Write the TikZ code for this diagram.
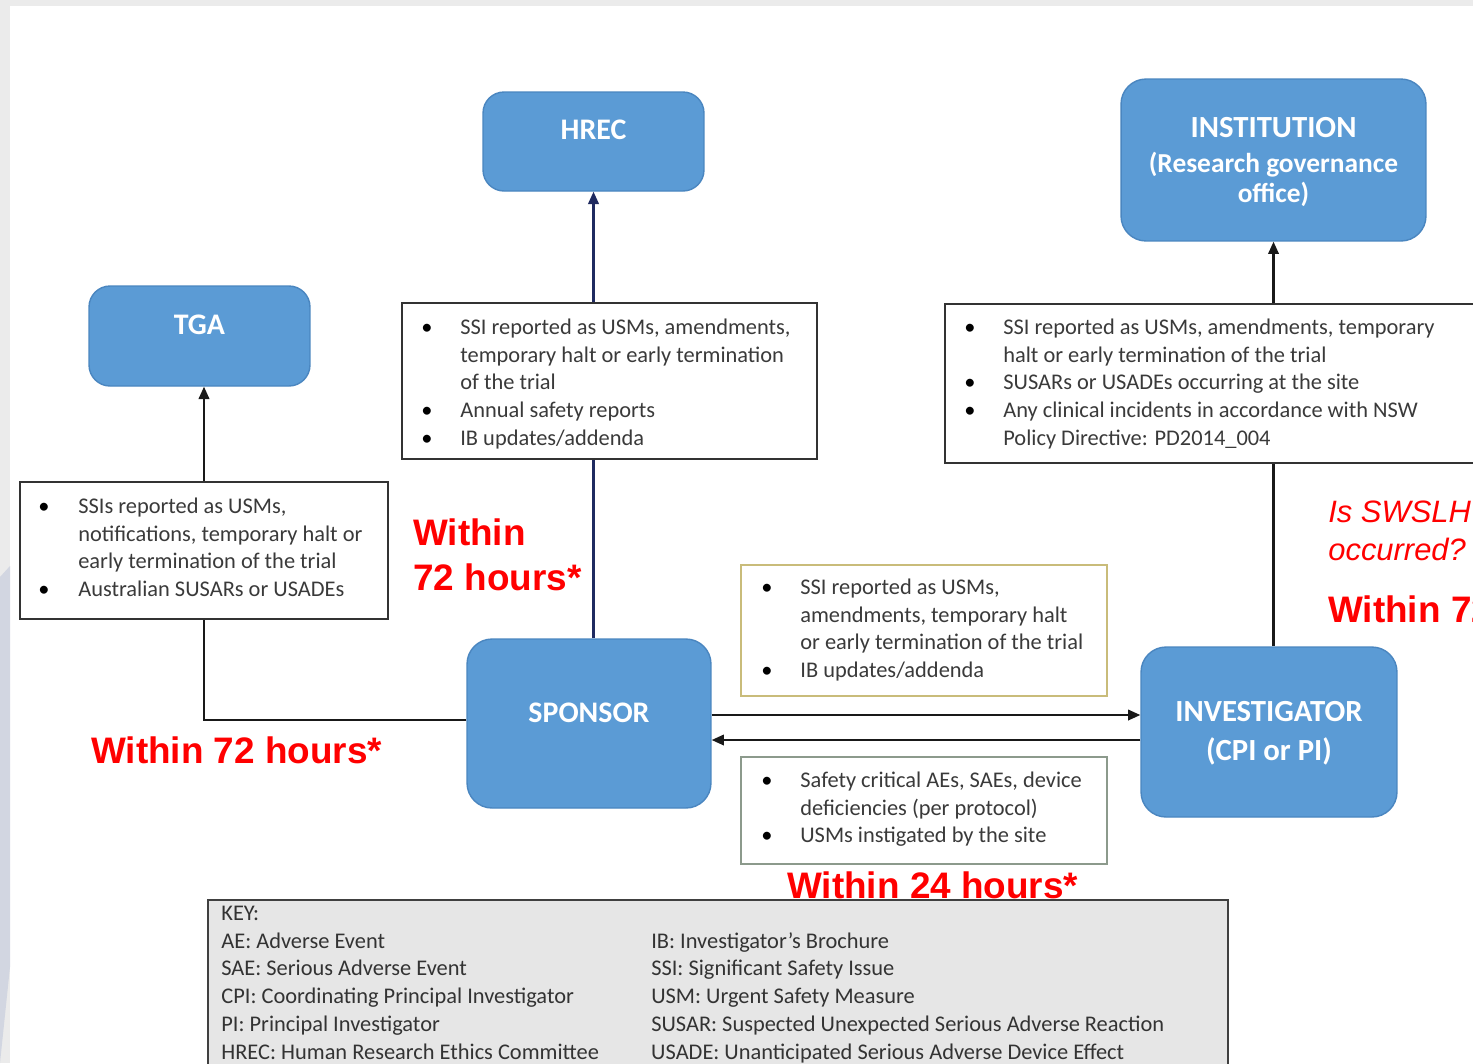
\documentclass[tikz,border=0pt]{standalone}
\usepackage{fontspec}
\setmainfont{Carlito}
\newfontfamily\arialf{Liberation Sans}
\usetikzlibrary{arrows.meta}
\definecolor{boxblue}{HTML}{5B9BD5}
\definecolor{boxedge}{HTML}{4A86C0}
\definecolor{navy}{HTML}{1F2A60}
\definecolor{txtgray}{HTML}{3A3A3A}
\definecolor{olive}{HTML}{C9BC7A}
\definecolor{greyedge}{HTML}{8C9A8C}
\definecolor{keyfill}{HTML}{E6E6E6}
\definecolor{bggray}{HTML}{EBEBEB}
\definecolor{bgblue}{HTML}{D2D6E1}
\newcommand{\listfont}{\fontsize{12.75pt}{15.93pt}\selectfont}
\newcommand{\bul}{\textcolor{black}{\textbullet}}
\begin{document}
\begin{tikzpicture}[x=0.02cm,y=-0.02cm,
  bluebox/.style={draw=boxedge, line width=0.8pt, fill=boxblue, rounded corners=0.42cm},
  boxtitle/.style={text=white, font=\bfseries\fontsize{17pt}{18pt}\selectfont, align=center, inner sep=0pt},
  listbox/.style={draw=black!80, line width=0.9pt, fill=white},
  listtext/.style={anchor=base west, inner sep=0pt, text=txtgray, font=\listfont},
  conn/.style={line width=1.2pt, draw=black!90},
  arr/.style={conn, -{Triangle[length=7pt,width=6pt]}},
  redlab/.style={anchor=base west, inner sep=0pt, text=red, font=\arialf\bfseries\fontsize{21pt}{25.6pt}\selectfont, align=left},
]
\clip (0,0) rectangle (1473,1063);
% background
\fill[bggray] (0,0) rectangle (1473,1063);
\fill[white] (10,6) rectangle (1473,1063);
\fill[bgblue] (0,577) -- (10,566) -- (10,967) -- (0,1063) -- cycle;

% blue boxes
\node[bluebox, minimum width=4.42cm, minimum height=1.98cm] (hrec) at (593.5,141.5) {};
\node[boxtitle] (hrect) at (593.5,130) {HREC};
\node[bluebox, minimum width=6.10cm, minimum height=3.24cm, rounded corners=0.5cm] (inst) at (1273.5,160) {};
\node[boxtitle, font=\bfseries\fontsize{15.6pt}{17.2pt}\selectfont] (instt) at (1273.5,162) {{\fontsize{17.5pt}{18pt}\selectfont INSTITUTION}\\[3pt](Research governance\\office)};
\node[bluebox, minimum width=4.42cm, minimum height=2.0cm] (tga) at (199.5,336) {};
\node[boxtitle] (tgat) at (199.5,325) {TGA};
\node[bluebox, minimum width=4.88cm, minimum height=3.38cm, rounded corners=0.5cm] (sponsor) at (589,723.5) {};
\node[boxtitle] (sponsort) at (589,713) {SPONSOR};
\node[bluebox, minimum width=5.12cm, minimum height=3.40cm, rounded corners=0.5cm] (invest) at (1269,732) {};
\node[boxtitle, font=\bfseries\fontsize{17.5pt}{18pt}\selectfont] (investt) at (1269,733) {INVESTIGATOR\\[4pt](CPI or PI)};

% list boxes
\node[listbox, minimum width=8.30cm, minimum height=3.12cm] (hlist) at (609.5,381) {};
\node[listtext] (hlistt) at (421,334) {\begin{tabular}[t]{@{}p{0.78cm}@{}l@{}}
\bul & SSI reported as USMs, amendments,\\
 & temporary halt or early termination\\
 & of the trial\\
\bul & Annual safety reports\\
\bul & IB updates/addenda
\end{tabular}};

\node[listbox, minimum width=10.9cm, minimum height=3.18cm] (ilist) at (1217.5,383.5) {};
\node[listtext] (ilistt) at (964,334) {\begin{tabular}[t]{@{}p{0.78cm}@{}l@{}}
\bul & SSI reported as USMs, amendments, temporary\\
 & halt or early termination of the trial\\
\bul & SUSARs or USADEs occurring at the site\\
\bul & Any clinical incidents in accordance with NSW\\
 & Policy Directive: PD2014\_004
\end{tabular}};

\node[listbox, minimum width=7.36cm, minimum height=2.74cm] (tlist) at (204,550.5) {};
\node[listtext] (tlistt) at (38,513) {\begin{tabular}[t]{@{}p{0.8cm}@{}l@{}}
\bul & SSIs reported as USMs,\\
 & notifications, temporary halt or\\
 & early termination of the trial\\
\bul & Australian SUSARs or USADEs
\end{tabular}};

\node[listbox, draw=olive, minimum width=7.32cm, minimum height=2.62cm] (ylist) at (924,630.5) {};
\node[listtext] (ylistt) at (761,594) {\begin{tabular}[t]{@{}p{0.78cm}@{}l@{}}
\bul & SSI reported as USMs,\\
 & amendments, temporary halt\\
 & or early termination of the trial\\
\bul & IB updates/addenda
\end{tabular}};

\node[listbox, draw=greyedge, minimum width=7.32cm, minimum height=2.14cm] (blist) at (924,810.5) {};
\node[listtext] (blistt) at (761,787) {\begin{tabular}[t]{@{}p{0.78cm}@{}l@{}}
\bul & Safety critical AEs, SAEs, device\\
 & deficiencies (per protocol)\\
\bul & USMs instigated by the site
\end{tabular}};

% key
\node[draw=black!75, line width=1pt, fill=keyfill, minimum width=20.4cm, minimum height=3.8cm, anchor=north west] (key) at (207,899) {};
\node[listtext, text=black!80] (keyt) at (221,920) {\begin{tabular}[t]{@{}p{8.6cm}@{}l@{}}
KEY: & \\
AE: Adverse Event & IB: Investigator's Brochure\\
SAE: Serious Adverse Event & SSI: Significant Safety Issue\\
CPI: Coordinating Principal Investigator & USM: Urgent Safety Measure\\
PI: Principal Investigator & SUSAR: Suspected Unexpected Serious Adverse Reaction\\
HREC: Human Research Ethics Committee & USADE: Unanticipated Serious Adverse Device Effect
\end{tabular}};

% connectors
\draw[arr, draw=navy] (hrec.south |- hlist.north) -- (hrec.south);
\draw[conn, draw=navy] (hrec.south |- sponsor.north) -- (hrec.south |- hlist.south);
\draw[arr] (inst.south |- ilist.north) -- (inst.south);
\draw[conn] (inst.south |- invest.north) -- (inst.south |- ilist.south);
\draw[arr] (tlist.north) -- (tlist.north |- tga.south);
\draw[conn] ([yshift=0.07cm]sponsor.west) -| (tlist.south);
\coordinate (s1) at ([yshift=0.17cm]sponsor.east);
\coordinate (s2) at ([yshift=-0.33cm]sponsor.east);
\draw[arr] (s1) -- (s1 -| invest.west);
\draw[arr] (s2 -| invest.west) -- (s2);

% red labels
\node[redlab] (r1) at (413,590) {Within\\72 hours*};
\node[redlab] (r2) at (91,763) {Within 72 hours*};
\node[redlab] (r3) at (787,898) {Within 24 hours*};
\node[anchor=base west, inner sep=0pt, text=red, font=\arialf\itshape\fontsize{17.6pt}{21.6pt}\selectfont, align=left] (r4) at (1328,560) {Is SWSLH\\occurred?};
\node[redlab] (r5) at (1328,622) {Within 72 hours*};
\end{tikzpicture}
\end{document}
